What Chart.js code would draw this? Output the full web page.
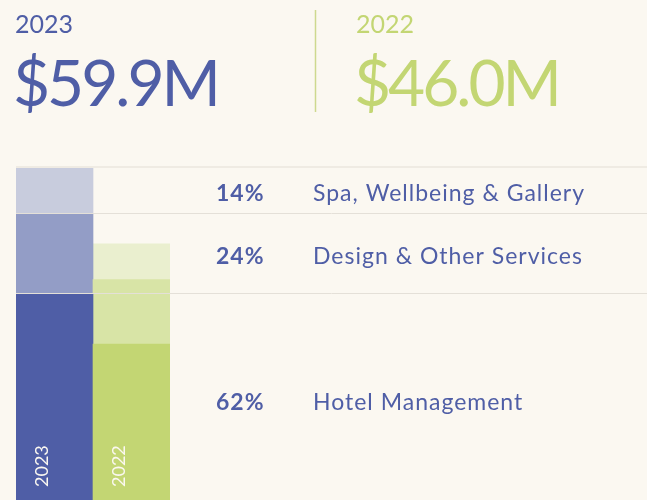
<!DOCTYPE html>
<html>
<head>
<meta charset="utf-8">
<script src="https://cdn.jsdelivr.net/npm/chart.js@4.4.1/dist/chart.umd.min.js"></script>
<style>
  html, body { margin: 0; padding: 0; background: #fbf8f1; }
  #wrap { position: relative; width: 647px; height: 500px; }
</style>
</head>
<body>
<div id="wrap"><canvas id="revenueChart"></canvas></div>
<script>
// Revenue split by segment, $M
const years = ['2023', '2022'];
const segments = ['Hotel Management', 'Design & Other Services', 'Spa, Wellbeing & Gallery'];
const revenue2023 = [37.1, 14.4, 8.4];
const revenue2022 = [28.0, 11.6, 6.4];
const shares2023 = [62, 24, 14];

const blues = ['#4f5ea6', '#939dc6', '#c8ccdd'];
const greens = ['#c3d673', '#d8e4a6', '#eaefcf'];
const FONT = 'Lato, "Noto Sans", sans-serif';

const total = arr => arr.reduce((a, b) => a + b, 0);

// Header, gridlines over the bars, segment labels and year tags
const overlay = {
    id: 'overlay',
    afterDatasetsDraw(chart) {
        const ctx = chart.ctx;
        const y = chart.scales.y;
        ctx.save();

        // header totals
        ctx.textBaseline = 'alphabetic';
        ctx.textAlign = 'left';
        ctx.fillStyle = blues[0];
        ctx.font = '400 25px ' + FONT;
        ctx.fillText(years[0], 15, 33);
        ctx.letterSpacing = '-3px';
        ctx.font = '400 64px ' + FONT;
        ctx.fillText('$' + total(revenue2023).toFixed(1) + 'M', 13, 106);
        ctx.fillStyle = greens[0];
        ctx.letterSpacing = '0px';
        ctx.font = '400 25px ' + FONT;
        ctx.fillText(years[1], 356, 33);
        ctx.letterSpacing = '-3px';
        ctx.font = '400 64px ' + FONT;
        ctx.fillText('$' + total(revenue2022).toFixed(1) + 'M', 354, 106);
        ctx.letterSpacing = '0px';

        ctx.strokeStyle = '#cdd98f';
        ctx.lineWidth = 1.5;
        ctx.beginPath();
        ctx.moveTo(315.5, 10);
        ctx.lineTo(315.5, 112);
        ctx.stroke();

        // boundaries of the 2023 stack
        const left = chart.chartArea.left;
        let cum = 0;
        const bounds = revenue2023.map(v => (cum += v));
        bounds.forEach((b, i) => {
            const py = Math.round(y.getPixelForValue(b));
            const top = i === bounds.length - 1;
            ctx.strokeStyle = top ? '#efebe3' : '#e4e0d8';
            ctx.lineWidth = top ? 2 : 1;
            ctx.beginPath();
            ctx.moveTo(left, py + (top ? 0 : 0.5));
            ctx.lineTo(chart.width, py + (top ? 0 : 0.5));
            ctx.stroke();
        });

        // share + segment name beside each 2023 block
        let base = 0;
        ctx.letterSpacing = '1px';
        revenue2023.forEach((v, i) => {
            const mid = y.getPixelForValue(base + v / 2);
            base += v;
            const off = i === 0 ? 13 : 11;
            ctx.fillStyle = blues[0];
            ctx.font = '700 23px ' + FONT;
            ctx.fillText(shares2023[i] + '%', 216, mid + off);
            ctx.font = '400 23px ' + FONT;
            ctx.fillText(segments[i], 313, mid + off);
        });
        ctx.letterSpacing = '0px';

        // year written up the base of each bar
        const bars = chart.getDatasetMeta(0).data;
        ctx.fillStyle = '#fbf8f1';
        ctx.font = '400 18px ' + FONT;
        bars.forEach((bar, i) => {
            const bl = bar.x - bar.width / 2;
            ctx.save();
            ctx.translate(bl + 32, 487);
            ctx.rotate(-Math.PI / 2);
            ctx.fillText(years[i], 0, 0);
            ctx.restore();
        });

        ctx.restore();
    }
};

const ctx = document.getElementById('revenueChart').getContext('2d');
new Chart(ctx, {
    type: 'bar',
    data: {
        labels: years,
        datasets: segments.map((name, i) => ({
            label: name,
            data: [revenue2023[i], revenue2022[i]],
            backgroundColor: [blues[i], greens[i]],
            borderWidth: 0,
            categoryPercentage: 1,
            barPercentage: 1
        }))
    },
    options: {
        responsive: true,
        maintainAspectRatio: false,
        animation: false,
        layout: { padding: { left: 16, right: 477, top: 166, bottom: 0 } },
        plugins: { legend: { display: false }, tooltip: { enabled: false } },
        scales: {
            x: { stacked: true, display: false },
            y: { stacked: true, display: false, min: 0, max: 60 }
        }
    },
    plugins: [overlay]
});
</script>
</body>
</html>
